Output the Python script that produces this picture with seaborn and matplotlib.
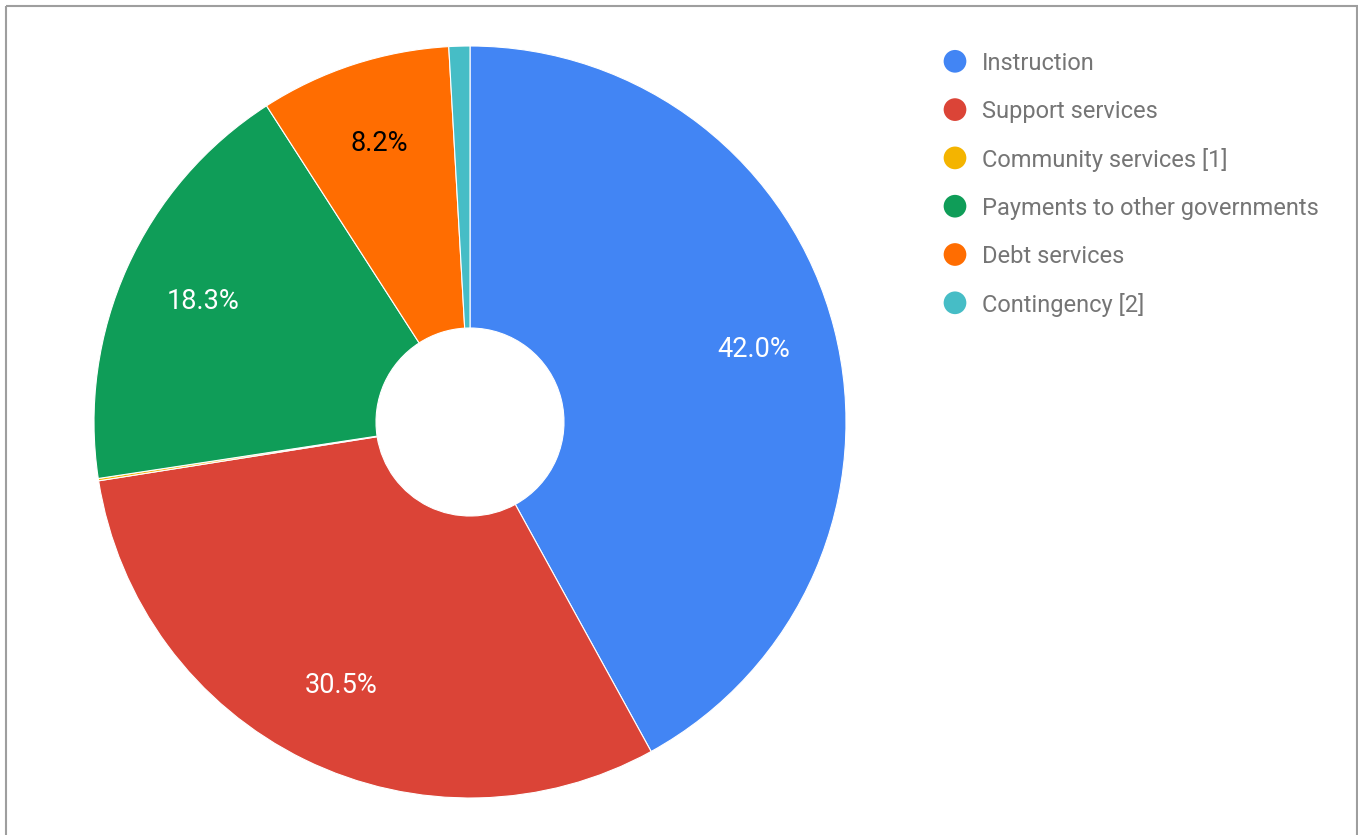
import matplotlib
matplotlib.use("Agg")
import matplotlib.pyplot as plt
from matplotlib.patches import Rectangle
import seaborn as sns

# ---- data ----
categories = ["Instruction", "Support services", "Community services [1]",
              "Payments to other governments", "Debt services", "Contingency [2]"]
values = [42.0, 30.5, 0.1, 18.3, 8.2, 0.9]
colors_hex = ["#4285f4", "#db4437", "#f4b400", "#0f9d58", "#ff6d01", "#46bdc6"]
label_colors = ["white", "white", "white", "white", "#000000", "white"]

sns.set_theme(style="white")
plt.rcParams["font.family"] = ["Roboto", "DejaVu Sans"]
palette = sns.color_palette(colors_hex)

W, H = 1358, 835
fig = plt.figure(figsize=(W / 100, H / 100), dpi=100)
fig.patch.set_facecolor("white")

# overlay axes in pixel coordinates for frame + legend
ov = fig.add_axes([0, 0, 1, 1])
ov.set_xlim(0, W)
ov.set_ylim(H, 0)
ov.axis("off")
ov.patch.set_alpha(0)
ov.add_patch(Rectangle((5.5, 5.5), W - 7, H + 10, fill=False,
                       edgecolor="#9e9e9e", linewidth=1.5))

# pie axes
cx, cy, r = 470, 422, 376
ax = fig.add_axes([(cx - r) / W, (H - cy - r) / H, 2 * r / W, 2 * r / H])
ax.set_xlim(-1, 1)
ax.set_ylim(-1, 1)
ax.axis("off")

def fmt(p):
    return f"{p:.1f}%" if p >= 2 else ""

wedges, texts, autotexts = ax.pie(
    values, colors=palette, startangle=90, counterclock=False, radius=1.0,
    autopct=fmt, pctdistance=0.78,
    wedgeprops=dict(width=0.75, edgecolor="white", linewidth=0.8),
    textprops=dict(fontsize=19.5),
)
for t, c in zip(autotexts, label_colors):
    t.set_color(c)
ax.set_xlim(-1, 1)
ax.set_ylim(-1, 1)

# legend
lx, ly0, dy = 955, 61.3, 48.3
for i, (name, col) in enumerate(zip(categories, palette)):
    y = ly0 + i * dy
    ov.scatter([lx], [y], s=(22.7 * 0.72) ** 2, color=col, edgecolors="none")
    ov.text(982, y + 8.8, name, fontsize=17, color="#757575",
            va="baseline", ha="left")

fig.savefig("out.png", dpi=100)
